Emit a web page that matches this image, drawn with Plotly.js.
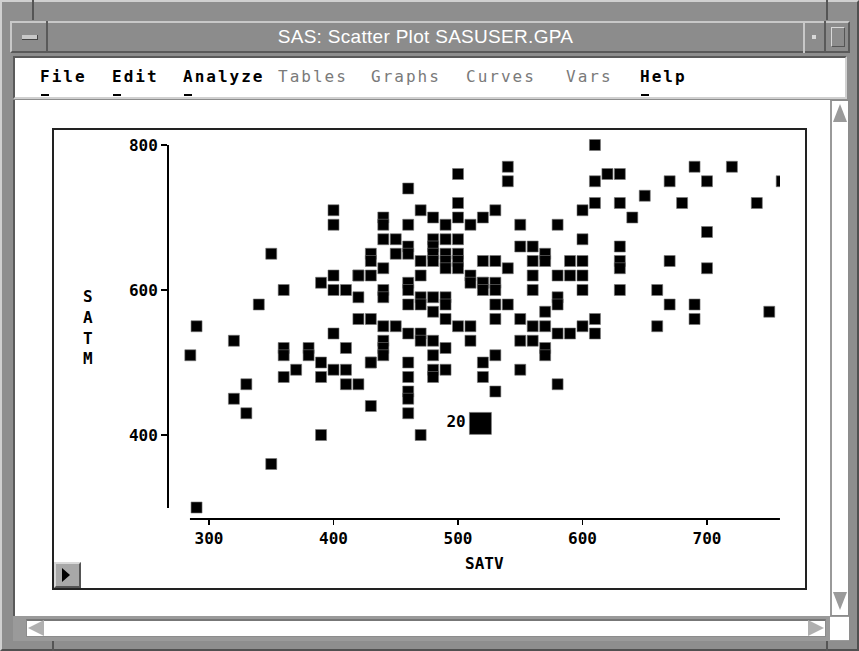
<!DOCTYPE html>
<html>
<head>
<meta charset="utf-8">
<script src="https://cdn.plot.ly/plotly-3.0.1.min.js"></script>
<style>
  html, body { margin:0; padding:0; }
  body { width:859px; height:651px; position:relative; overflow:hidden; background:#8e8e8e; font-family:"Liberation Sans", Arial, sans-serif; }
  .abs { position:absolute; box-sizing:border-box; }
  .menu { position:absolute; top:67px; font-family:"DejaVu Sans Mono", monospace; font-weight:bold; font-size:16px; letter-spacing:2px; color:#000; }
  .menu.dim { color:#7a7a7a; font-weight:normal; }
  .ul { position:absolute; top:94px; height:2px; width:8px; background:#000; }
</style>
</head>
<body>
<!-- outer frame bevels -->
<div class="abs" style="left:0;top:0;width:859px;height:651px;border-top:2px solid #d0d0d0;border-left:2px solid #d0d0d0;border-right:2px solid #505050;border-bottom:2px solid #505050;"></div>
<div class="abs" style="left:32px;top:0;width:2px;height:20px;background:#555;"></div>
<div class="abs" style="left:826px;top:0;width:2px;height:20px;background:#555;"></div>
<div class="abs" style="left:52px;top:640px;width:2px;height:11px;background:#555;"></div>
<div class="abs" style="left:826px;top:640px;width:2px;height:11px;background:#555;"></div>
<!-- title bar -->
<div class="abs" style="left:10px;top:21px;width:840px;height:32px;background:#8c8c8c;border-top:2px solid #c8c8c8;border-left:2px solid #c8c8c8;border-bottom:2px solid #5a5a5a;border-right:2px solid #5a5a5a;"></div>
<div class="abs" style="left:10px;top:21px;width:38px;height:32px;border-right:2px solid #5a5a5a;"></div>
<div class="abs" style="left:22px;top:35px;width:16px;height:5px;background:#c8c8c8;border-bottom:1px solid #444;border-right:1px solid #444;"></div>
<div class="abs" style="left:803px;top:21px;width:23px;height:32px;border-left:2px solid #c8c8c8;border-right:2px solid #5a5a5a;"></div>
<div class="abs" style="left:812px;top:35px;width:4px;height:4px;background:#d8d8d8;"></div>
<div class="abs" style="left:831px;top:27px;width:14px;height:20px;border:1px solid #d8d8d8;border-right-color:#555;border-bottom-color:#555;"></div>
<div class="abs" style="left:48px;top:24px;width:755px;height:26px;color:#fff;font-size:19px;line-height:26px;text-align:center;letter-spacing:0.3px;">SAS: Scatter Plot SASUSER.GPA</div>
<!-- menu bar -->
<div class="abs" style="left:13px;top:56px;width:834px;height:43px;background:#fff;border:2px solid #5a5a5a;border-right-color:#d0d0d0;border-bottom-color:#d0d0d0;"></div>
<div class="menu" style="left:40px;">File</div>
<div class="menu" style="left:112px;">Edit</div>
<div class="menu" style="left:183px;">Analyze</div>
<div class="menu dim" style="left:278px;">Tables</div>
<div class="menu dim" style="left:371px;">Graphs</div>
<div class="menu dim" style="left:466px;">Curves</div>
<div class="menu dim" style="left:566px;">Vars</div>
<div class="menu" style="left:640px;">Help</div>
<div class="ul" style="left:41px;"></div>
<div class="ul" style="left:113px;"></div>
<div class="ul" style="left:184px;"></div>
<div class="ul" style="left:641px;"></div>
<!-- content area -->
<div class="abs" style="left:13px;top:100px;width:817px;height:516px;background:#fff;border-left:2px solid #5a5a5a;"></div>
<!-- vertical scrollbar -->
<div class="abs" style="left:830px;top:100px;width:19px;height:516px;background:#fff;border:1px solid #8c8c8c;border-left:2px solid #9a9a9a;"></div>
<div class="abs" style="left:833px;top:104px;width:0;height:0;border-left:7px solid transparent;border-right:7px solid transparent;border-bottom:18px solid #9a9a9a;"></div>
<div class="abs" style="left:833px;top:592px;width:0;height:0;border-left:7px solid transparent;border-right:7px solid transparent;border-top:18px solid #9a9a9a;"></div>
<!-- horizontal scrollbar -->
<div class="abs" style="left:13px;top:616px;width:836px;height:25px;background:#9a9a9a;"></div>
<div class="abs" style="left:26px;top:619px;width:800px;height:18px;background:#fff;border:1px solid #8c8c8c;border-top:2px solid #777;"></div>
<div class="abs" style="left:28px;top:620px;width:0;height:0;border-top:8px solid transparent;border-bottom:8px solid transparent;border-right:16px solid #b0b0b0;"></div>
<div class="abs" style="left:808px;top:620px;width:0;height:0;border-top:8px solid transparent;border-bottom:8px solid transparent;border-left:16px solid #b0b0b0;"></div>
<div class="abs" style="left:830px;top:617px;width:19px;height:23px;background:#fff;"></div>
<!-- plot frame -->
<div class="abs" style="left:52px;top:128px;width:755px;height:462px;background:#fff;border:2px solid #222;"></div>
<div id="plot" class="abs" style="left:52px;top:128px;width:754px;height:461px;"></div>
<!-- small button -->
<div class="abs" style="left:54px;top:562px;width:27px;height:26px;background:#a8a8a8;border-top:2px solid #d8d8d8;border-left:2px solid #d8d8d8;border-right:2px solid #555;border-bottom:2px solid #555;"></div>
<div class="abs" style="left:62px;top:568px;width:0;height:0;border-top:7px solid transparent;border-bottom:7px solid transparent;border-left:8px solid #000;"></div>

<script>
// ---- data (SATV, SATM) ----
const satv = [
  610,690,720,610,620,630,670,700,760,650,610,630,680,740,600,640,580,700,600,630,
  590,600,630,630,670,700,580,590,600,600,630,660,670,690,750,690,660,610,600,590,610,
  540,540,500,460,470,500,500,480,490,520,510,530,550,460,440,440,440,450,
  550,560,570,570,560,560,560,520,530,540,520,530,
  460,460,470,470,450,430,430,440,430,420,460,440,
  480,490,500,480,480,490,500,480,490,500,490,500,510,510,520,520,
  440,460,460,470,470,480,490,490,480,490,500,510,510,430,440,450,440,440,440,430,
  460,470,470,480,490,480,460,460,460,460,460,480,490,480,520,520,430,470,
  530,580,580,540,530,530,550,560,570,570,580,550,560,570,570,530,550,580,530,
  290,285,320,330,320,330,350,290,360,360,360,370,380,380,390,390,400,410,410,400,410,420,420,430,390,
  400,400,350,400,390,400,410,420,420,360,340
];
const satm = [
  800,770,770,750,760,760,750,750,750,730,720,720,720,720,710,700,690,680,670,660,
  640,640,640,630,640,630,620,620,620,600,600,600,580,580,570,560,550,560,550,540,540,
  770,750,760,740,710,720,700,700,690,700,690,710,690,690,700,690,670,670,
  660,660,650,640,640,620,600,640,640,630,610,610,
  660,650,640,620,650,650,640,630,620,620,610,600,
  670,670,670,660,650,650,650,640,640,640,630,630,620,610,610,600,
  590,600,580,590,580,590,590,580,570,560,550,550,530,560,550,550,530,520,510,500,
  540,540,530,530,520,510,500,480,460,450,430,490,490,480,500,480,440,400,
  600,590,580,580,580,560,560,550,570,550,540,530,530,520,510,510,490,470,460,
  550,510,530,470,450,430,360,300,520,510,480,490,520,510,500,480,490,490,470,540,520,470,560,500,400,
  710,690,650,620,610,600,600,620,590,600,580
];
// highlighted observation
const hiV = [518];
const hiM = [416];
const hiLabel = ['20'];

// tick labels
const xTicks = [300, 400, 500, 600, 700];
const yTicks = [400, 600, 800];
// axis line extents
const xLine = [284.7, 758.6];
const yLine = [299.3, 800];

const tickFont = {family: 'DejaVu Sans Mono, monospace', size: 16, color: '#000', weight: 700};
const titleFont = {family: 'DejaVu Sans Mono, monospace', size: 16, color: '#000', weight: 700};

const traces = [
  {
    type: 'scatter', mode: 'markers', x: satv, y: satm,
    marker: {symbol: 'square', size: 11, color: '#000', line: {color: '#777', width: 0.6}},
    hoverinfo: 'x+y', showlegend: false
  },
  {
    type: 'scatter', mode: 'markers+text', x: hiV, y: hiM, text: hiLabel,
    textposition: 'middle left', textfont: titleFont,
    marker: {symbol: 'square', size: 22, color: '#000', line: {color: '#777', width: 0.6}},
    showlegend: false
  }
];

const layout = {
  width: 754, height: 461,
  margin: {l: 116, r: 26, t: 7, b: 70, pad: 0},
  paper_bgcolor: 'rgba(0,0,0,0)', plot_bgcolor: 'rgba(0,0,0,0)',
  showlegend: false,
  xaxis: {
    range: [267.07, 758.63], showgrid: false, zeroline: false, showline: false,
    tickmode: 'array', tickvals: xTicks, ticktext: xTicks.map(String),
    ticks: 'outside', ticklen: 5, tickwidth: 1.5, tickcolor: '#000', tickfont: tickFont
  },
  yaxis: {
    range: [284.14, 813.79], showgrid: false, zeroline: false, showline: false,
    tickmode: 'array', tickvals: yTicks, ticktext: yTicks.map(String),
    ticks: 'outside', ticklen: 6, tickwidth: 1.5, tickcolor: '#000', tickfont: tickFont
  },
  shapes: [
    {type: 'line', xref: 'x', yref: 'paper', x0: xLine[0], x1: xLine[1], y0: 0, y1: 0, line: {color: '#000', width: 2}},
    {type: 'line', xref: 'paper', yref: 'y', x0: 0, x1: 0, y0: yLine[0], y1: yLine[1], line: {color: '#000', width: 2}}
  ],
  annotations: [
    {text: 'SATV', xref: 'x', yref: 'paper', x: (xLine[0] + xLine[1]) / 2, y: 0, yshift: -44, showarrow: false,
     font: titleFont, xanchor: 'center', yanchor: 'middle'},
    {text: 'S<br>A<br>T<br>M', xref: 'paper', yref: 'paper', x: 0, xshift: -80, y: 0.5, yshift: 0, showarrow: false,
     font: titleFont, align: 'center', xanchor: 'center', yanchor: 'middle'}
  ],
  font: {family: 'DejaVu Sans Mono, monospace'}
};

Plotly.newPlot('plot', traces, layout, {displayModeBar: false, staticPlot: true});
</script>
</body>
</html>
